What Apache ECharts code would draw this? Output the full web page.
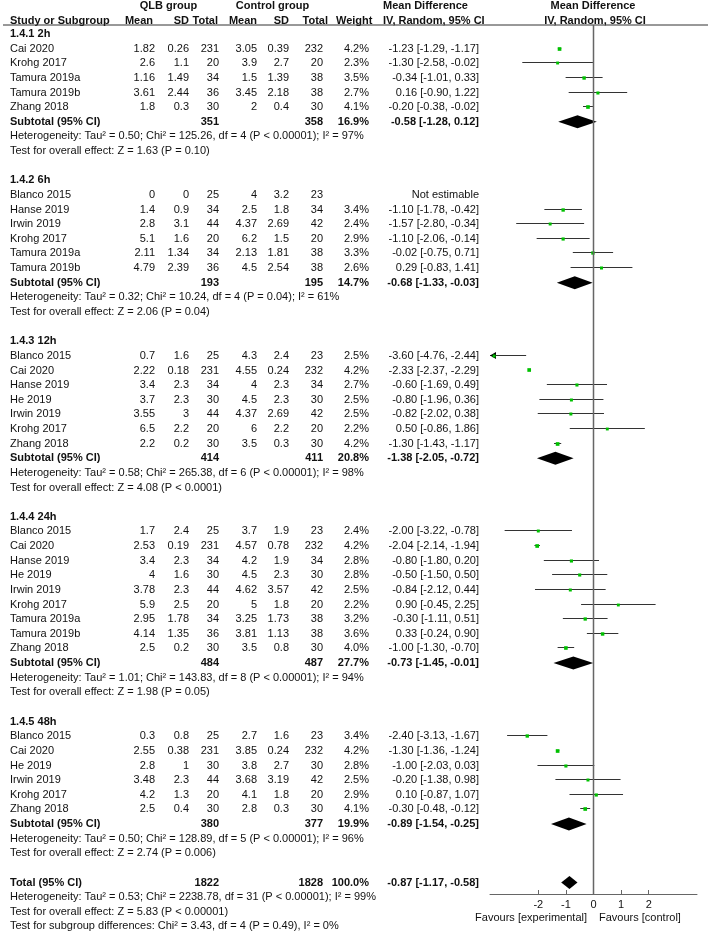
<!DOCTYPE html>
<html><head><meta charset="utf-8">
<script src="https://cdn.jsdelivr.net/npm/echarts@6/dist/echarts.min.js"></script>
<style>html,body{margin:0;padding:0;background:#fff}#c{width:708px;height:932px}</style>
</head><body><div id="c"></div><script>
// ---------------- DATA ----------------
const groupNames = ["1.4.1 2h", "1.4.2 6h", "1.4.3 12h", "1.4.4 24h", "1.4.5 48h"];
const studyGroup = [0,0,0,0,0, 1,1,1,1,1,1, 2,2,2,2,2,2,2, 3,3,3,3,3,3,3,3,3, 4,4,4,4,4,4];
const studyNames = [
  "Cai 2020","Krohg 2017","Tamura 2019a","Tamura 2019b","Zhang 2018",
  "Blanco 2015","Hanse 2019","Irwin 2019","Krohg 2017","Tamura 2019a","Tamura 2019b",
  "Blanco 2015","Cai 2020","Hanse 2019","He 2019","Irwin 2019","Krohg 2017","Zhang 2018",
  "Blanco 2015","Cai 2020","Hanse 2019","He 2019","Irwin 2019","Krohg 2017","Tamura 2019a","Tamura 2019b","Zhang 2018",
  "Blanco 2015","Cai 2020","He 2019","Irwin 2019","Krohg 2017","Zhang 2018"];
const qlbMean = [1.82,2.6,1.16,3.61,1.8, 0,1.4,2.8,5.1,2.11,4.79, 0.7,2.22,3.4,3.7,3.55,6.5,2.2, 1.7,2.53,3.4,4,3.78,5.9,2.95,4.14,2.5, 0.3,2.55,2.8,3.48,4.2,2.5];
const qlbSD   = [0.26,1.1,1.49,2.44,0.3, 0,0.9,3.1,1.6,1.34,2.39, 1.6,0.18,2.3,2.3,3,2.2,0.2, 2.4,0.19,2.3,1.6,2.3,2.5,1.78,1.35,0.2, 0.8,0.38,1,2.3,1.3,0.4];
const qlbN    = [231,20,34,36,30, 25,34,44,20,34,36, 25,231,34,30,44,20,30, 25,231,34,30,44,20,34,36,30, 25,231,30,44,20,30];
const ctlMean = [3.05,3.9,1.5,3.45,2, 4,2.5,4.37,6.2,2.13,4.5, 4.3,4.55,4,4.5,4.37,6,3.5, 3.7,4.57,4.2,4.5,4.62,5,3.25,3.81,3.5, 2.7,3.85,3.8,3.68,4.1,2.8];
const ctlSD   = [0.39,2.7,1.39,2.18,0.4, 3.2,1.8,2.69,1.5,1.81,2.54, 2.4,0.24,2.3,2.3,2.69,2.2,0.3, 1.9,0.78,1.9,2.3,3.57,1.8,1.73,1.13,0.8, 1.6,0.24,2.7,3.19,1.8,0.3];
const ctlN    = [232,20,38,38,30, 23,34,42,20,38,38, 23,232,34,30,42,20,30, 23,232,34,30,42,20,38,38,30, 23,232,30,42,20,30];
const weight  = [4.2,2.3,3.5,2.7,4.1, null,3.4,2.4,2.9,3.3,2.6, 2.5,4.2,2.7,2.5,2.5,2.2,4.2, 2.4,4.2,2.8,2.8,2.5,2.2,3.2,3.6,4.0, 3.4,4.2,2.8,2.5,2.9,4.1];
const md      = [-1.23,-1.30,-0.34,0.16,-0.20, null,-1.10,-1.57,-1.10,-0.02,0.29, -3.60,-2.33,-0.60,-0.80,-0.82,0.50,-1.30, -2.00,-2.04,-0.80,-0.50,-0.84,0.90,-0.30,0.33,-1.00, -2.40,-1.30,-1.00,-0.20,0.10,-0.30];
const ciLo    = [-1.29,-2.58,-1.01,-0.90,-0.38, null,-1.78,-2.80,-2.06,-0.75,-0.83, -4.76,-2.37,-1.69,-1.96,-2.02,-0.86,-1.43, -3.22,-2.14,-1.80,-1.50,-2.12,-0.45,-1.11,-0.24,-1.30, -3.13,-1.36,-2.03,-1.38,-0.87,-0.48];
const ciHi    = [-1.17,-0.02,0.33,1.22,-0.02, null,-0.42,-0.34,-0.14,0.71,1.41, -2.44,-2.29,0.49,0.36,0.38,1.86,-1.17, -0.78,-1.94,0.20,0.50,0.44,2.25,0.51,0.90,-0.70, -1.67,-1.24,0.03,0.98,1.07,-0.12];

const subQlbN   = [351,193,414,484,380];
const subCtlN   = [358,195,411,487,377];
const subWeight = [16.9,14.7,20.8,27.7,19.9];
const subMd     = [-0.58,-0.68,-1.38,-0.73,-0.89];
const subLo     = [-1.28,-1.33,-2.05,-1.45,-1.54];
const subHi     = [0.12,-0.03,-0.72,-0.01,-0.25];
const subHet = [
  "Heterogeneity: Tau² = 0.50; Chi² = 125.26, df = 4 (P < 0.00001); I² = 97%",
  "Heterogeneity: Tau² = 0.32; Chi² = 10.24, df = 4 (P = 0.04); I² = 61%",
  "Heterogeneity: Tau² = 0.58; Chi² = 265.38, df = 6 (P < 0.00001); I² = 98%",
  "Heterogeneity: Tau² = 1.01; Chi² = 143.83, df = 8 (P < 0.00001); I² = 94%",
  "Heterogeneity: Tau² = 0.50; Chi² = 128.89, df = 5 (P < 0.00001); I² = 96%"];
const subTest = [
  "Test for overall effect: Z = 1.63 (P = 0.10)",
  "Test for overall effect: Z = 2.06 (P = 0.04)",
  "Test for overall effect: Z = 4.08 (P < 0.0001)",
  "Test for overall effect: Z = 1.98 (P = 0.05)",
  "Test for overall effect: Z = 2.74 (P = 0.006)"];
const totalN      = [1822, 1828];
const totalWeight = 100.0;
const totalEffect = [-0.87, -1.17, -0.58];
const totalLines = [
  "Heterogeneity: Tau² = 0.53; Chi² = 2238.78, df = 31 (P < 0.00001); I² = 99%",
  "Test for overall effect: Z = 5.83 (P < 0.00001)",
  "Test for subgroup differences: Chi² = 3.43, df = 4 (P = 0.49), I² = 0%"];
const axisTicks = [-2, -1, 0, 1, 2];
const favourLabels = ["Favours [experimental]", "Favours [control]"];

// ---------------- LAYOUT ----------------
const W = 708, H = 932;
const S = 14.63, Y0 = 34;          // row pitch & first row centre (px)
const AXIS_Y = 894;                // forest axis line (px)
const XMIN = -3.75, XMAX = 3.75;
const FONT = "Liberation Sans, Arial, sans-serif";
const COL = {name:10, qMean:155, qSD:189, qN:219, cMean:257, cSD:289, cN:323, w:369, ci:479};
const f2 = v => v.toFixed(2);
const ciText = (m,l,h) => f2(m) + " [" + f2(l) + ", " + f2(h) + "]";

const texts = [];
const T = (x, r, t, a, b) => texts.push({x, r, t, a: a || 'right', b: !!b});

// header
T(168.5, -1.9, "QLB group", 'center', true);
T(272.5, -1.9, "Control group", 'center', true);
T(383, -1.9, "Mean Difference", 'left', true);
T(593, -1.9, "Mean Difference", 'center', true);
T(COL.name, -0.9, "Study or Subgroup", 'left', true);
T(153, -0.9, "Mean", 'right', true);
T(189, -0.9, "SD", 'right', true);
T(218, -0.9, "Total", 'right', true);
T(257, -0.9, "Mean", 'right', true);
T(289, -0.9, "SD", 'right', true);
T(328, -0.9, "Total", 'right', true);
T(336, -0.9, "Weight", 'left', true);
T(383, -0.9, "IV, Random, 95% CI", 'left', true);
T(595, -0.9, "IV, Random, 95% CI", 'center', true);

const studyMarks = [], diamonds = [];
let row = 0;
groupNames.forEach((g, gi) => {
  T(COL.name, row, g, 'left', true); row++;
  studyNames.forEach((n, i) => {
    if (studyGroup[i] !== gi) return;
    T(COL.name, row, n, 'left');
    T(COL.qMean, row, String(qlbMean[i])); T(COL.qSD, row, String(qlbSD[i])); T(COL.qN, row, String(qlbN[i]));
    T(COL.cMean, row, String(ctlMean[i])); T(COL.cSD, row, String(ctlSD[i])); T(COL.cN, row, String(ctlN[i]));
    if (weight[i] != null) {
      T(COL.w, row, weight[i].toFixed(1) + "%");
      T(COL.ci, row, ciText(md[i], ciLo[i], ciHi[i]));
      studyMarks.push([md[i], ciLo[i], ciHi[i], row, weight[i]]);
    } else {
      T(COL.ci, row, "Not estimable");
    }
    row++;
  });
  T(COL.name, row, "Subtotal (95% CI)", 'left', true);
  T(COL.qN, row, String(subQlbN[gi]), 'right', true);
  T(COL.cN, row, String(subCtlN[gi]), 'right', true);
  T(COL.w, row, subWeight[gi].toFixed(1) + "%", 'right', true);
  T(COL.ci, row, ciText(subMd[gi], subLo[gi], subHi[gi]), 'right', true);
  diamonds.push([subMd[gi], subLo[gi], subHi[gi], row]);
  row++;
  T(COL.name, row, subHet[gi], 'left'); row++;
  T(COL.name, row, subTest[gi], 'left'); row++;
  row++; // blank line
});
T(COL.name, row, "Total (95% CI)", 'left', true);
T(COL.qN, row, String(totalN[0]), 'right', true);
T(COL.cN, row, String(totalN[1]), 'right', true);
T(COL.w, row, totalWeight.toFixed(1) + "%", 'right', true);
T(COL.ci, row, ciText(totalEffect[0], totalEffect[1], totalEffect[2]), 'right', true);
diamonds.push([totalEffect[0], totalEffect[1], totalEffect[2], row]);
row++;
totalLines.forEach(l => { T(COL.name, row, l, 'left'); row++; });

const favRow = (918 - Y0) / S;
T(587, favRow, favourLabels[0], 'right');
T(599, favRow, favourLabels[1], 'left');

const Y_MIN = -2;
const Y_MAX1 = (H - 1 - Y0) / S;
const Y_MAX2 = (AXIS_Y - Y0) / S;
const TOP = Y0 + Y_MIN * S;
const UNDER = (25 - Y0) / S;

// ---------------- CHART ----------------
const chart = echarts.init(document.getElementById('c'), null, {renderer: 'canvas'});

function renderText(params, api) {
  const it = texts[params.dataIndex];
  const p = api.coord([it.x, it.r]);
  return {type: 'text', x: p[0], y: p[1], style: {
    text: it.t, textAlign: it.a, textVerticalAlign: 'middle',
    font: (it.b ? 'bold ' : '') + '11px ' + FONT, fill: '#111'}};
}
function renderStudy(params, api) {
  const m = api.value(0), lo = api.value(1), hi = api.value(2), r = api.value(3), w = api.value(4);
  const a = api.coord([Math.max(lo, XMIN), r]), b = api.coord([Math.min(hi, XMAX), r]), c = api.coord([m, r]);
  const y = Math.round(a[1]) - 0.5;
  const ch = [{type: 'line', shape: {x1: a[0], y1: y, x2: b[0], y2: y}, style: {stroke: '#333', lineWidth: 1}}];
  if (lo < XMIN) ch.push({type: 'polygon', shape: {points: [[a[0], y], [a[0] + 6, y - 3.5], [a[0] + 6, y + 3.5]]}, style: {fill: '#000'}});
  const sz = 2 + w * 0.4;
  ch.push({type: 'rect', shape: {x: c[0] - sz / 2, y: y - sz / 2 + 0.5, width: sz, height: sz}, style: {fill: '#00c000'}});
  return {type: 'group', children: ch};
}
function renderDiamond(params, api) {
  const m = api.value(0), lo = api.value(1), hi = api.value(2), r = api.value(3);
  const a = api.coord([lo, r]), b = api.coord([hi, r]), c = api.coord([m, r]);
  const h = 6.5;
  return {type: 'polygon', shape: {points: [[a[0], a[1]], [c[0], c[1] - h], [b[0], b[1]], [c[0], c[1] + h]]}, style: {fill: '#000'}};
}

chart.setOption({
  animation: false,
  backgroundColor: '#fff',
  grid: [
    {left: 0, right: 0, top: TOP, bottom: H - (Y0 + Y_MAX1 * S)},
    {left: 490, right: W - 697, top: TOP, bottom: H - AXIS_Y}
  ],
  xAxis: [
    {gridIndex: 0, type: 'value', min: 0, max: W, show: false},
    {gridIndex: 1, type: 'value', min: XMIN, max: XMAX, position: 'bottom',
      axisLine: {show: true, onZero: false, lineStyle: {color: '#666', width: 1}},
      axisTick: {show: true, inside: true, length: 4, customValues: axisTicks, lineStyle: {color: '#666'}},
      axisLabel: {customValues: axisTicks, fontSize: 11, fontFamily: FONT, color: '#111', margin: 5},
      splitLine: {show: false}}
  ],
  yAxis: [
    {gridIndex: 0, type: 'value', inverse: true, min: Y_MIN, max: Y_MAX1, show: false},
    {gridIndex: 1, type: 'value', inverse: true, min: Y_MIN, max: Y_MAX2, show: false}
  ],
  series: [
    {type: 'line', xAxisIndex: 0, yAxisIndex: 0, data: [[3, UNDER], [W, UNDER]], symbol: 'none',
      lineStyle: {color: '#333', width: 1}, silent: true},
    {type: 'line', xAxisIndex: 1, yAxisIndex: 1, data: [[0, UNDER], [0, Y_MAX2]], symbol: 'none',
      lineStyle: {color: '#666', width: 1.5}, silent: true},
    {type: 'custom', xAxisIndex: 1, yAxisIndex: 1, data: studyMarks, renderItem: renderStudy, clip: false, silent: true},
    {type: 'custom', xAxisIndex: 1, yAxisIndex: 1, data: diamonds, renderItem: renderDiamond, clip: false, silent: true},
    {type: 'custom', xAxisIndex: 0, yAxisIndex: 0, data: texts.map(t => [t.x, t.r]), renderItem: renderText, clip: false, silent: true}
  ]
});
</script></body></html>
